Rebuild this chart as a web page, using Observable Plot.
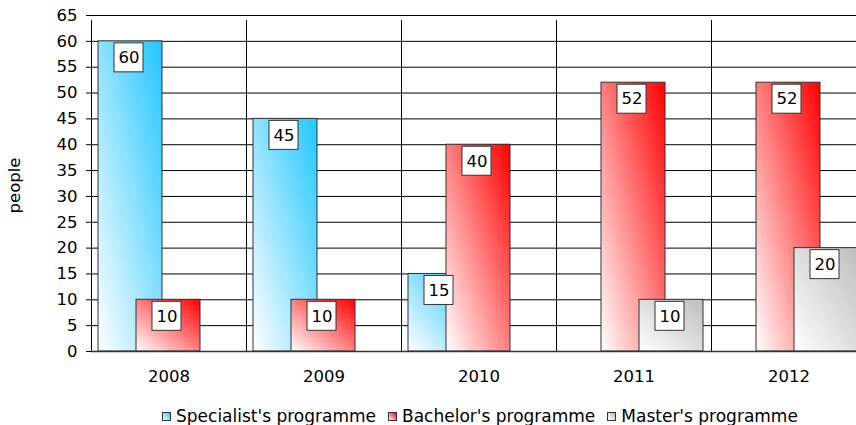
<!DOCTYPE html>
<html>
<head>
<meta charset="utf-8">
<script src="https://cdn.jsdelivr.net/npm/d3@7"></script>
<script src="https://cdn.jsdelivr.net/npm/@observablehq/plot@0.6"></script>
<style>
  html, body { margin: 0; padding: 0; background: #fff; overflow: hidden; width: 856px; height: 425px; }
  #chart svg { display: block; max-width: none !important; }
  #legend { display: flex; align-items: center; font-family: "DejaVu Sans", Verdana, sans-serif; font-size: 17px; color: #000; margin-left: 162px; height: 30px; margin-top: 6px; white-space: nowrap; }
  .item { display: flex; align-items: center; margin-right: 12px; }
  .sw { width: 7px; height: 7px; border: 1px solid #333; margin-right: 5px; }
</style>
</head>
<body>
<div id="chart"></div>
<div id="legend"></div>
<script>
const years = ["2008", "2009", "2010", "2011", "2012"];
const seriesNames = ["Specialist's programme", "Bachelor's programme", "Master's programme"];
const specialist = [60, 45, 15, null, null];
const bachelor = [10, 10, 40, 52, 52];
const master = [null, null, null, 10, 20];
const yTicks = [0, 5, 10, 15, 20, 25, 30, 35, 40, 45, 50, 55, 60, 65];
const yTitle = "people";

const colors = ["#22c6ff", "#ff0000", "#bdbdbd"];
const gradIds = ["gSpec", "gBach", "gMast"];
const valuesBySeries = [specialist, bachelor, master];

const W = 866, ML = 91, MR = 0;
const bw = (W - ML - MR) / years.length;
const barW = 64;
const offsets = [7, 45, 83];
const boxW = 29;
const FS = 16.5;

const rows = [];
valuesBySeries.forEach((vals, s) => {
  vals.forEach((v, i) => { if (v != null) rows.push({year: years[i], series: s, value: v}); });
});

const defs = () => {
  const d = d3.create("svg:defs");
  gradIds.forEach((id, k) => {
    const g = d.append("linearGradient").attr("id", id)
      .attr("x1", 0).attr("y1", 1).attr("x2", 1).attr("y2", 0);
    g.append("stop").attr("offset", "0%").attr("stop-color", "#ffffff");
    g.append("stop").attr("offset", "100%").attr("stop-color", colors[k]);
  });
  return d.node();
};

const barMarks = [];
const boxMarks = [];
[0, 1, 2].forEach(s => {
  const data = rows.filter(r => r.series === s);
  const off = offsets[s];
  barMarks.push(Plot.barY(data, {
    x: "year", y1: 0, y2: "value",
    insetLeft: off, insetRight: bw - off - barW,
    fill: `url(#${gradIds[s]})`, stroke: "#333", strokeWidth: 1
  }));
  const bl = off + 16;
  boxMarks.push(Plot.barY(data, {
    x: "year", y1: "value", y2: "value",
    insetLeft: bl, insetRight: bw - bl - boxW,
    insetTop: 2, insetBottom: -31,
    fill: "#fff", stroke: "#333", strokeWidth: 1
  }));
  boxMarks.push(Plot.text(data, {
    x: "year", y: "value", text: d => String(d.value),
    dx: bl + boxW / 2 - bw / 2, dy: 16.5,
    fontSize: FS, fill: "#000", lineAnchor: "middle", textAnchor: "middle"
  }));
});

const chart = Plot.plot({
  width: W, height: 395,
  marginLeft: ML, marginRight: MR, marginTop: 15, marginBottom: 44,
  x: {domain: years, padding: 0},
  y: {domain: [0, 65]},
  style: {fontFamily: "DejaVu Sans, Verdana, sans-serif", fontSize: FS + "px", color: "#000", background: "#fff"},
  marks: [
    defs,
    Plot.ruleY(yTicks.filter(t => t > 0), {stroke: "#000", strokeWidth: 1}),
    Plot.ruleX(years, {x: d => d, dx: -bw / 2, y1: 0, y2: 65, insetBottom: -5, stroke: "#000"}),
    ...barMarks,
    Plot.ruleY([0], {stroke: "#333", strokeWidth: 1.5}),
    ...boxMarks,
    Plot.axisY({ticks: yTicks, tickSize: 5, tickPadding: 9, fontSize: FS, label: null}),
    Plot.text([yTitle], {frameAnchor: "left", text: d => d, rotate: -90, dx: -77, dy: 2, fontSize: FS, fill: "#000", textAnchor: "middle", lineAnchor: "middle"}),
    Plot.axisX({tickSize: 0, tickPadding: 19, label: null, fontSize: FS})
  ]
});
document.getElementById("chart").appendChild(chart);

const legend = document.getElementById("legend");
seriesNames.forEach((name, k) => {
  const it = document.createElement("div");
  it.className = "item";
  const sw = document.createElement("span");
  sw.className = "sw";
  sw.style.background = `linear-gradient(to top right, #ffffff, ${colors[k]})`;
  const tx = document.createElement("span");
  tx.textContent = name;
  it.appendChild(sw); it.appendChild(tx);
  legend.appendChild(it);
});
</script>
</body>
</html>
